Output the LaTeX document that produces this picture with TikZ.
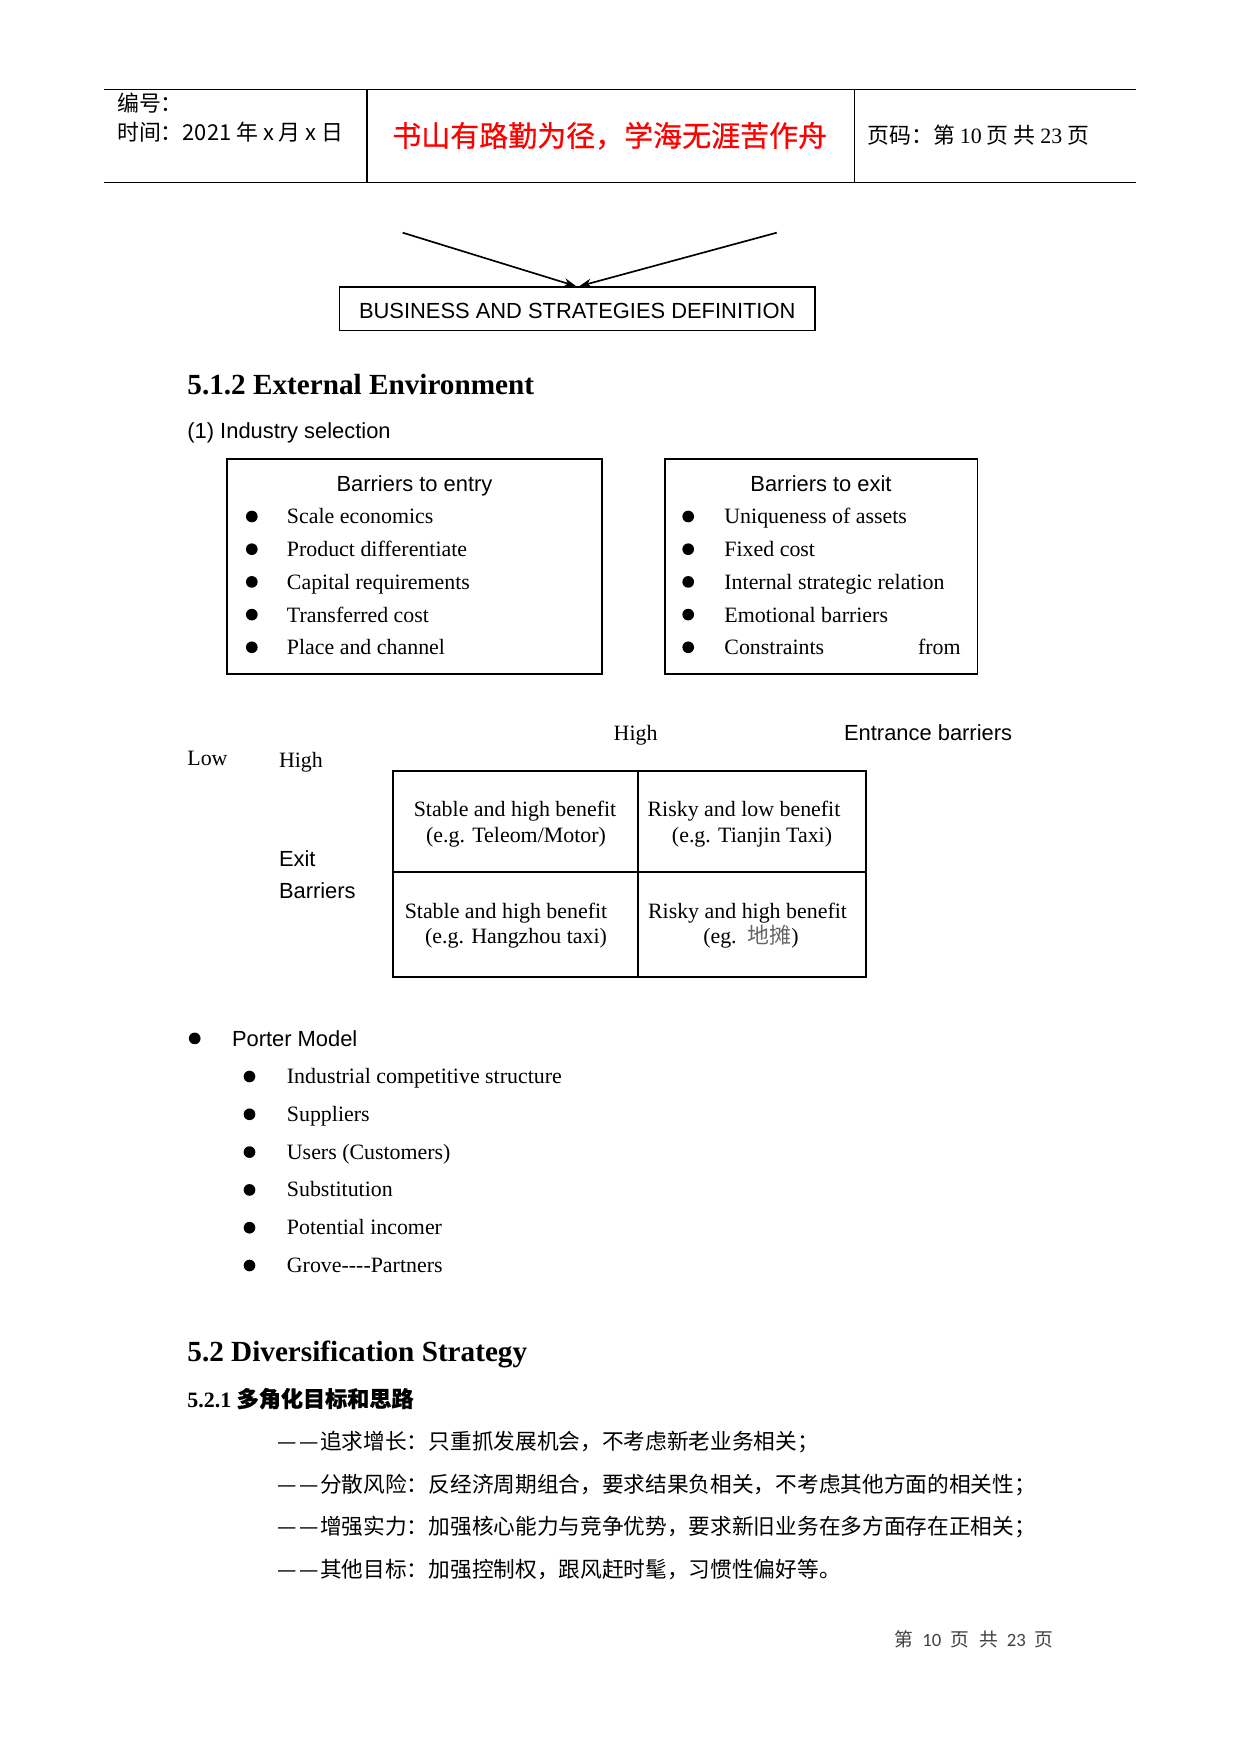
\documentclass[tikz,border=0pt]{standalone}
\usepackage{fontspec}
\setmainfont{Liberation Serif}
\newfontfamily\arial{Liberation Sans}
\newfontfamily\carl{Carlito}
\newfontfamily\cjk{Noto Sans CJK SC}
\newfontfamily\cjkb[FakeBold=0.6]{Noto Sans CJK SC}
\newcommand\dd{\makebox[1em]{—}\makebox[1em]{—}}
\usetikzlibrary{arrows.meta}
\tikzset{
  txt/.style={inner sep=0pt, anchor=base west, font=\fontsize{10.5}{12.6}\selectfont},
  ctxt/.style={inner sep=0pt, anchor=base, font=\fontsize{10.5}{12.6}\selectfont},
  sans/.style={font=\arial\fontsize{10.5}{12.6}\selectfont},
  cjktxt/.style={font=\cjk\fontsize{10.5}{12.6}\selectfont},
  cjkline/.style={inner sep=0pt, anchor=base west, font=\cjk\fontsize{10.4}{12}\selectfont},
  bul/.style={circle, fill=black, inner sep=0pt, minimum size=5.6pt},
  frame/.style={draw, line width=0.75pt, inner sep=0pt},
  cell/.style={draw, line width=0.55pt, inner sep=0pt},
  arr/.style={line width=0.8pt, -{Stealth[length=6pt,width=4.2pt]}},
  rule/.style={line width=0.5pt},
}
\begin{document}
\begin{tikzpicture}[x=0.4795pt,y=-0.4795pt]
\useasboundingbox (0,0) rectangle (1241,1754);

% ---------------- header ----------------
\draw[rule] (104,89.5) -- (1136,89.5);
\draw[rule] (104,182.4) -- (1136,182.4);
\draw[line width=0.7pt] (367,89.5) -- (367,182.4);
\draw[line width=0.4pt] (854,89.5) -- (854,182.4);
\node[txt, cjktxt] (hno) at (116.7,112) {编号：};
\node[txt, cjktxt] (htime) at (116.7,140.5) {时间：2021 年 x 月 x 日};
\node[ctxt, font=\cjkb\fontsize{13.9}{16}\selectfont, text=red] (htitle) at (609.7,146.5) {书山有路勤为径，学海无涯苦作舟};
\node[txt, cjktxt] (hpage) at (867,143.5) {页码：第 {\rmfamily 10} 页 共 {\rmfamily 23} 页};

% ---------------- arrows and definition box ----------------
\coordinate (al) at (402.7,232.7);
\coordinate (ar) at (776.7,232.7);
\node[frame, sans, text height=9.4pt, text depth=0pt, minimum width=475.7*0.4795pt, minimum height=43.6*0.4795pt] (bsd) at (577.2,308.8) {BUSINESS AND STRATEGIES DEFINITION};
\draw[arr] (al) -- ([xshift=-0.5pt]bsd.north);
\draw[arr] (ar) -- ([xshift=1pt]bsd.north);

% ---------------- 5.1.2 ----------------
\node[txt, font=\bfseries\fontsize{14}{16}\selectfont] (h512) at (187,394.7) {5.1.2 External Environment};
\node[txt, sans] (ind) at (187,438.6) {(1) Industry selection};

\node[frame, minimum width=375*0.4795pt, minimum height=215*0.4795pt] (entry) at (414.5,566.5) {};
\node[frame, minimum width=312.6*0.4795pt, minimum height=215*0.4795pt] (exit) at (821.2,566.5) {};
\node[ctxt, sans] (entryT) at (414.5,491) {Barriers to entry};
\node[ctxt, sans] (exitT) at (821,491) {Barriers to exit};

\foreach \t [count=\i] in {Scale economics, Product differentiate, Capital requirements, Transferred cost, Place and channel}{
  \pgfmathsetmacro\yy{516.5+32.7*(\i-1)}
  \node[bul] (eb\i) at (251.8,\yy) {};
  \node[txt] (et\i) at (286.5,\yy+7.5) {\t};
}
\foreach \t [count=\i] in {Uniqueness of assets, Fixed cost, Internal strategic relation, Emotional barriers, Constraints}{
  \pgfmathsetmacro\yy{516.5+32.7*(\i-1)}
  \node[bul] (xb\i) at (688.2,\yy) {};
  \node[txt] (xt\i) at (724,\yy+7.5) {\t};
}
\node[txt, anchor=base east] (from) at (961,654.6) {from};

% ---------------- matrix ----------------
\node[txt] (low) at (187,765) {Low};
\node[txt] (high1) at (278.6,767) {High};
\node[ctxt] (high2) at (635.6,740) {High};
\node[txt, sans] (entb) at (843.7,740) {Entrance barriers};
\node[txt, sans] (exl1) at (278.6,866) {Exit};
\node[txt, sans] (exl2) at (278.6,898.5) {Barriers};

\node[cell, minimum width=245*0.4795pt, minimum height=101*0.4795pt] (c11) at (515.5,821.5) {};
\node[cell, minimum width=228*0.4795pt, minimum height=101*0.4795pt] (c12) at (752,821.5) {};
\node[cell, minimum width=245*0.4795pt, minimum height=105*0.4795pt] (c21) at (515.5,924.5) {};
\node[cell, minimum width=228*0.4795pt, minimum height=105*0.4795pt] (c22) at (752,924.5) {};

\node[ctxt] (c11a) at (515,816) {Stable and high benefit};
\node[ctxt] (c11b) at (516,842) {(e.g. Teleom/Motor)};
\node[ctxt] (c12a) at (744,816) {Risky and low benefit};
\node[ctxt] (c12b) at (752,842) {(e.g. Tianjin Taxi)};
\node[ctxt] (c21a) at (506,918) {Stable and high benefit};
\node[ctxt] (c21b) at (516,943) {(e.g. Hangzhou taxi)};
\node[ctxt] (c22a) at (747.5,918) {Risky and high benefit};
\node[ctxt] (c22b) at (751,943) {(eg.~~{\cjk\color{black!60}地摊})};

% ---------------- Porter model ----------------
\node[bul] (pb) at (194.7,1038.4) {};
\node[txt, sans] (pm) at (231.6,1046) {Porter Model};
\foreach \t [count=\i] in {Industrial competitive structure, Suppliers, Users (Customers), Substitution, Potential incomer, Grove-{}-{}-{}-Partners}{
  \pgfmathsetmacro\yy{1076.5+37.8*(\i-1)}
  \node[bul] (pb\i) at (249.5,\yy) {};
  \node[txt] (pt\i) at (286.5,\yy+7) {\t};
}

% ---------------- 5.2 ----------------
\node[txt, font=\bfseries\fontsize{14}{16}\selectfont] (h52) at (187,1361) {5.2 Diversification Strategy};
\node[txt, font=\bfseries\fontsize{10.5}{12}\selectfont] (h521) at (187,1407) {5.2.1 {\cjkb\fontsize{10.6}{13}\selectfont 多角化目标和思路}};

\node[cjkline] (l1) at (276.4,1449.5) {\dd 追求增长：只重抓发展机会，不考虑新老业务相关；};
\node[cjkline] (l2) at (276.4,1492) {\dd 分散风险：反经济周期组合，要求结果负相关，不考虑其他方面的相关性；};
\node[cjkline] (l3) at (276.4,1534.5) {\dd 增强实力：加强核心能力与竞争优势，要求新旧业务在多方面存在正相关；};
\node[cjkline] (l4) at (276.4,1577) {\dd 其他目标：加强控制权，跟风赶时髦，习惯性偏好等。};

% ---------------- footer ----------------
\node[txt, font=\cjk\fontsize{9}{11}\selectfont, text=black!75] (foot) at (894.3,1646.7) {第\hspace{4.2pt}{\carl 10}\hspace{4.2pt}页\hspace{5pt}共\hspace{4.2pt}{\carl 23}\hspace{4.2pt}页};
\end{tikzpicture}
\end{document}
